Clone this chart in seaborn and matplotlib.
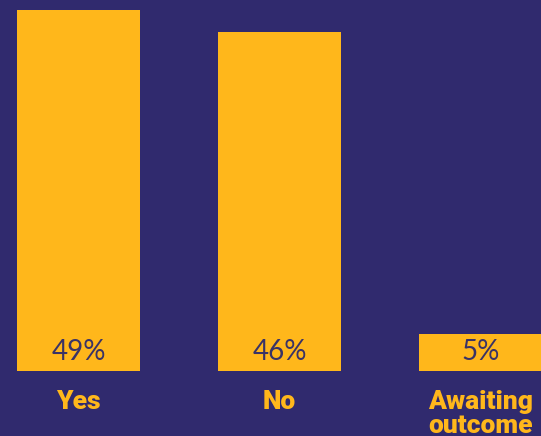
import matplotlib
matplotlib.use("Agg")
import matplotlib.pyplot as plt
import seaborn as sns
import pandas as pd

categories = ["Yes", "No", "Awaiting\noutcome"]
values = [49, 46, 5]
value_labels = ["49%", "46%", "5%"]

BG = "#302A6E"
BAR = "#FFB71B"
TXT_DARK = "#3A3366"

sns.set_theme(style="white")
plt.rcParams["font.family"] = ["Roboto", "DejaVu Sans"]

df = pd.DataFrame({"category": categories, "value": values})

fig = plt.figure(figsize=(5.41, 4.36), dpi=100, facecolor=BG)
ax = fig.add_axes([0, 0.149, 1, 0.851])
ax.set_facecolor(BG)

sns.barplot(data=df, x="category", y="value", order=categories,
            color=BAR, saturation=1, width=0.612, ax=ax, edgecolor="none")

ax.set_xlim(-0.3905, 2.301)
ax.set_ylim(0, 50.36)

for i, lab in enumerate(value_labels):
    ax.text(i, 2.6, lab, ha="center", va="center", fontsize=20,
            color=TXT_DARK, family=["Lato", "DejaVu Sans"], fontweight="normal")

ax.set_xlabel("")
ax.set_ylabel("")
ax.set_yticks([])
ax.set_xticks(range(len(categories)))
ax.set_xticklabels(categories, fontsize=19, fontweight="black", color=BAR,
                   linespacing=1.0)
ax.tick_params(axis="x", length=0, pad=14)
for s in ax.spines.values():
    s.set_visible(False)

fig.savefig("out.png", dpi=100, facecolor=BG)
